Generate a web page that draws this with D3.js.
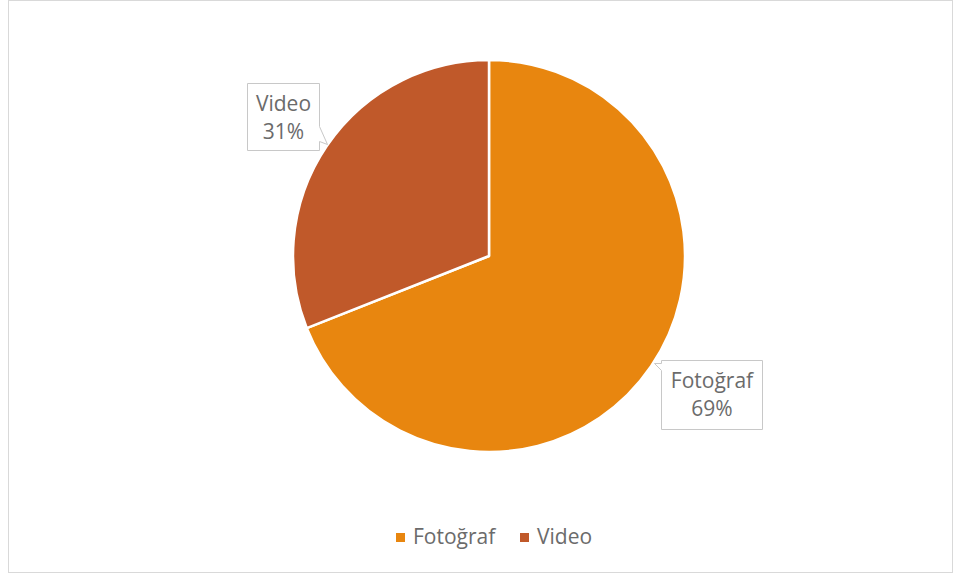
<!DOCTYPE html>
<html>
<head>
<meta charset="utf-8">
<script src="https://cdn.jsdelivr.net/npm/d3@7"></script>
<style>
  html, body { margin: 0; padding: 0; background: #fff; }
  svg { display: block; }
  text { font-family: "Open Sans", sans-serif; fill: #6b6b6b; }
</style>
</head>
<body>
<svg id="chart" width="960" height="577"></svg>
<script>
// Share of media types
const categories = ["Fotoğraf", "Video"];
const values = [69, 31];
const colors = ["#E8860F", "#C0592A"];

const svg = d3.select("#chart");

// chart frame
svg.append("rect")
  .attr("x", 8.5).attr("y", 0.5)
  .attr("width", 944).attr("height", 572)
  .attr("fill", "#fff")
  .attr("stroke", "#d9d9d9").attr("stroke-width", 1);

const cx = 489, cy = 256, R = 196;
const color = d3.scaleOrdinal().domain(categories).range(colors);

const pie = d3.pie().sort(null).value(d => d.value);
const arcs = pie(categories.map((c, i) => ({ name: c, value: values[i] })));
const arc = d3.arc().innerRadius(0).outerRadius(R);

const g = svg.append("g").attr("transform", `translate(${cx},${cy})`);
g.selectAll("path.slice")
  .data(arcs)
  .join("path")
  .attr("class", "slice")
  .attr("d", arc)
  .attr("fill", d => color(d.data.name))
  .attr("stroke", "#fff")
  .attr("stroke-width", 2.5)
  .attr("stroke-linejoin", "round");

// data callouts: box with a small tail toward the slice
const total = d3.sum(values);
const pct = v => Math.round(v / total * 100) + "%";

function callout(x0, y0, w, h, tail) {
  const x1 = x0 + w, y1 = y0 + h;
  let p;
  if (tail === "right") {
    p = [[x0, y0], [x1, y0], [x1, y1 - 24], [x1 + 8, y1 - 6], [x1, y1 - 9], [x1, y1], [x0, y1]];
  } else {
    p = [[x0, y0 + 10], [x0 - 7, y0 + 3], [x0, y0 + 3], [x0, y0], [x1, y0], [x1, y1], [x0, y1]];
  }
  return "M" + p.map(q => q.join(",")).join("L") + "Z";
}

const labelBoxes = [
  { x: 661.5, y: 360.5, w: 101, h: 69, tail: "left" },
  { x: 247.5, y: 83.5, w: 72, h: 67, tail: "right" }
];

arcs.forEach((d, i) => {
  const b = labelBoxes[i];
  svg.append("path")
    .attr("d", callout(b.x, b.y, b.w, b.h, b.tail))
    .attr("fill", "#fff")
    .attr("stroke", "#c8c8c8")
    .attr("stroke-width", 1);
  const tx = b.x + b.w / 2;
  svg.append("text")
    .attr("x", tx).attr("y", b.y + 27)
    .attr("text-anchor", "middle")
    .attr("font-size", 21)
    .text(d.data.name);
  svg.append("text")
    .attr("x", tx).attr("y", b.y + 55)
    .attr("text-anchor", "middle")
    .attr("font-size", 21)
    .text(pct(d.data.value));
});

// legend
const legend = svg.append("g");
const legendX = [396, 520];
categories.forEach((c, i) => {
  legend.append("rect")
    .attr("x", legendX[i]).attr("y", 533)
    .attr("width", 9).attr("height", 9)
    .attr("fill", color(c));
  legend.append("text")
    .attr("x", legendX[i] + 17).attr("y", 544)
    .attr("font-size", 21)
    .text(c);
});
</script>
</body>
</html>
